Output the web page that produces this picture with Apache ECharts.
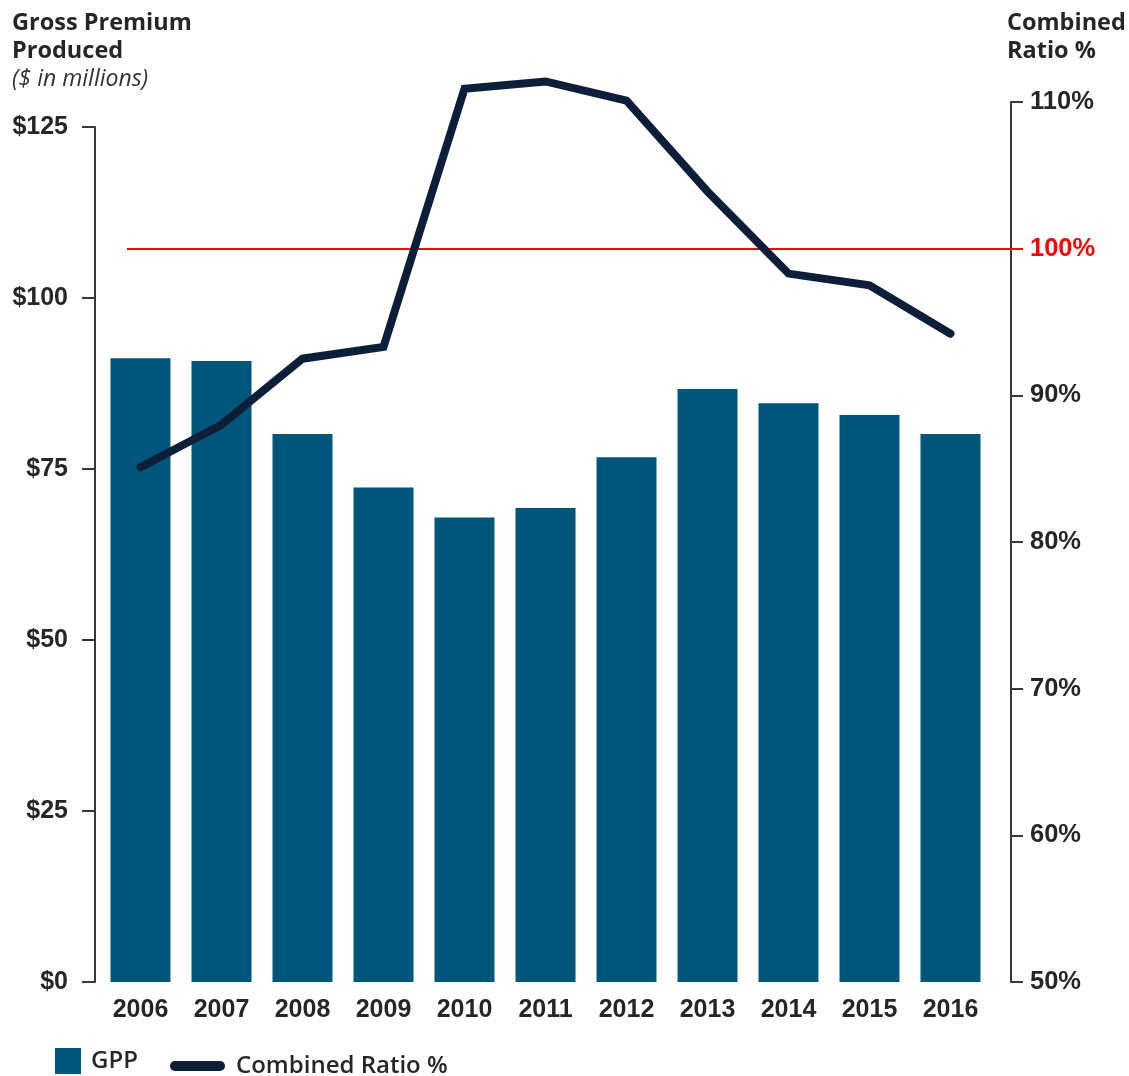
<!DOCTYPE html>
<html>
<head>
	<title>GPP and Combined Ratio</title>
	<meta charset="utf-8" />
	<script type="text/javascript" src="https://cdn.jsdelivr.net/npm/echarts@6/dist/echarts.min.js"></script>
	<style type="text/css">
		html, body{ margin:0; padding:0; background:#fff; }
		#container{
			width: 1129px;
			height: 1076px;
		}
	</style>
</head>
<body>
<div id="container"></div>
</body>

<script type="text/javascript">
	var years = ['2006', '2007', '2008', '2009', '2010', '2011', '2012', '2013', '2014', '2015', '2016'];
	// gross premium produced, $ millions
	var gpp = [91.2, 90.8, 80.1, 72.3, 67.9, 69.3, 76.7, 86.7, 84.6, 82.9, 80.1];
	// combined ratio, %
	var ratio = [85.1, 88.0, 92.5, 93.3, 110.9, 111.4, 110.1, 103.9, 98.3, 97.5, 94.2];
	var leftTicks = [0, 25, 50, 75, 100, 125];
	var rightTicks = [50, 60, 70, 80, 90, 100, 110];
	var breakEven = 100;

	var chart = echarts.init(document.getElementById('container'));

	var labelFont = 'Liberation Sans, Arial, sans-serif';
	var textFont = 'Open Sans, sans-serif';
	var dark = '#262626';

	var axisLineStyle = { color: '#383838', width: 2 };

	var options = {
		animation: false,
		title: [
			{
				text: 'Gross Premium\nProduced',
				subtext: '($ in millions)',
				left: 12, top: 9, padding: 0, itemGap: 0,
				textStyle: { fontFamily: textFont, fontSize: 23.5, fontWeight: 'bold', lineHeight: 28, color: dark },
				subtextStyle: { fontFamily: textFont, fontSize: 23, fontStyle: 'italic', lineHeight: 28, color: '#333' }
			},
			{
				text: 'Combined\nRatio %',
				left: 1007, top: 9, padding: 0,
				textStyle: { fontFamily: textFont, fontSize: 23.5, fontWeight: 'bold', lineHeight: 28, color: dark }
			}
		],

		legend: [
			{
				data: ['GPP'],
				left: 55, top: 1048, padding: 0,
				icon: 'rect', itemWidth: 26, itemHeight: 26,
				textStyle: { fontFamily: textFont, fontSize: 24, fontWeight: 600, color: dark, padding: [10, 0, 0, 5] }
			},
			{
				data: ['Combined Ratio %'],
				left: 170, top: 1054, padding: 0,
				icon: 'path://M5,0 H50 A5,5 0 0 1 50,10 H5 A5,5 0 0 1 5,0 Z',
				itemWidth: 55, itemHeight: 10,
				textStyle: { fontFamily: textFont, fontSize: 24, fontWeight: 600, color: dark, padding: [5, 0, 0, 6] }
			}
		],

		grid: [
			{ left: 100, right: 138, top: 127, bottom: 94 },
			{ left: 100, right: 138, top: 102, bottom: 94 }
		],

		xAxis: [
			{
				type: 'category', gridIndex: 0, data: years,
				axisLine: { show: false }, axisTick: { show: false },
				axisLabel: { margin: 16, fontFamily: labelFont, fontSize: 25, fontWeight: 'bold', color: dark }
			},
			{
				type: 'category', gridIndex: 1, data: years,
				axisLine: { show: false }, axisTick: { show: false }, axisLabel: { show: false }
			}
		],

		yAxis: [
			{
				type: 'value', gridIndex: 0, position: 'left', offset: 5,
				min: leftTicks[0], max: leftTicks[leftTicks.length - 1], interval: 25,
				splitLine: { show: false },
				axisLine: { show: true, lineStyle: axisLineStyle },
				axisTick: { show: true, length: 13, lineStyle: axisLineStyle },
				axisLabel: {
					margin: 27, fontFamily: labelFont, fontSize: 25, fontWeight: 'bold', color: dark,
					formatter: function(v){ return '$' + v; }
				}
			},
			{
				type: 'value', gridIndex: 1, position: 'right', offset: 20,
				min: rightTicks[0], max: rightTicks[rightTicks.length - 1], interval: 10,
				splitLine: { show: false },
				axisLine: { show: true, lineStyle: axisLineStyle },
				axisTick: { show: true, length: 12, lineStyle: axisLineStyle },
				axisLabel: {
					margin: 19, fontFamily: labelFont, fontSize: 25.5, fontWeight: 'bold',
					color: function(v){ return +v === breakEven ? '#ff0000' : dark; },
					formatter: function(v){ return v + '%'; }
				}
			}
		],

		series: [
			{
				name: 'GPP',
				type: 'bar',
				xAxisIndex: 0, yAxisIndex: 0,
				data: gpp,
				barWidth: 60,
				itemStyle: { color: '#00567a' }
			},
			{
				name: 'Combined Ratio %',
				type: 'line',
				xAxisIndex: 1, yAxisIndex: 1,
				data: ratio,
				clip: false,
				symbol: 'none',
				itemStyle: { color: '#0d1e38' },
				lineStyle: { color: '#0d1e38', width: 8, cap: 'round', join: 'miter' },
				z: 5,
				markLine: {
					silent: true,
					symbol: 'none',
					label: { show: false },
					lineStyle: { color: '#ff0000', width: 2, type: 'solid' },
					data: [[{ x: 127, yAxis: breakEven }, { x: 1023, yAxis: breakEven }]]
				}
			}
		]
	};

	chart.setOption(options);
</script>

</html>
